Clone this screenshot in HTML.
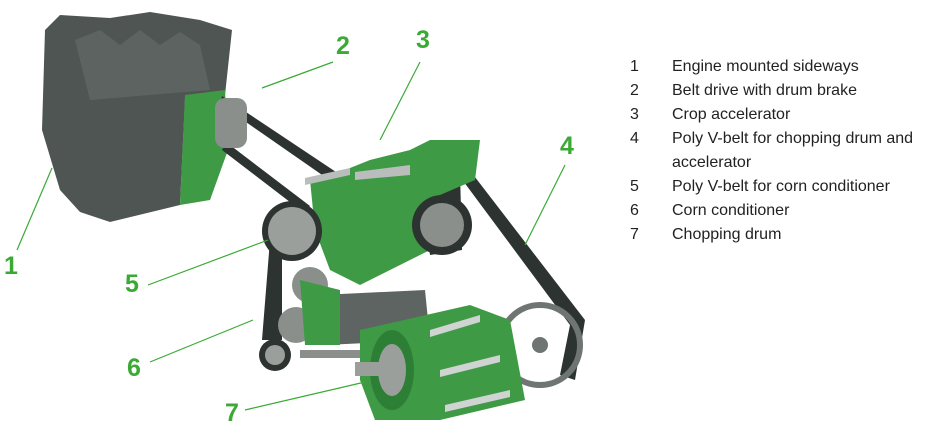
<!DOCTYPE html>
<html><head><style>
body{margin:0;background:#fff;width:941px;height:426px;overflow:hidden;font-family:"Liberation Sans",sans-serif}
.lg{position:absolute;left:630px;top:55px;font-size:16px;color:#222;line-height:24px}
.lg div{position:relative;padding-left:42px}
.lg span{position:absolute;left:0}
</style></head><body>
<svg width="941" height="426" style="position:absolute;left:0;top:0">
<!-- engine -->
<path d="M45,30 L60,15 L110,18 L150,12 L200,20 L232,30 L225,95 L185,100 L180,205 L110,222 L80,212 L60,190 L42,130 Z" fill="#4f5552"/>
<path d="M75,40 L100,30 L120,45 L140,30 L160,45 L180,32 L200,45 L210,90 L90,100 Z" fill="#5d6360"/>
<path d="M185,95 L225,90 L228,150 L210,200 L180,205 Z" fill="#3f9a45"/>
<!-- belt 2 -->
<path d="M222,96 L345,178 L338,186 L220,104 Z" fill="#2c3331"/>
<path d="M226,142 L310,206 L303,212 L222,150 Z" fill="#2c3331"/>
<rect x="215" y="98" width="32" height="50" rx="10" fill="#8a8f8c"/>
<!-- belt 4 -->
<path d="M455,170 L468,168 L585,320 L575,380 L560,375 L570,325 Z" fill="#2c3331"/>
<path d="M420,190 L460,172 L462,250 L430,255 Z" fill="#2c3331"/>
<!-- green frame -->
<path d="M310,180 L345,170 L370,160 L410,150 L430,140 L480,140 L475,180 L440,195 L430,250 L400,265 L360,285 L330,270 L315,230 Z" fill="#3f9a45"/>
<path d="M305,178 L350,168 L350,175 L305,185 Z" fill="#b9bdbb"/>
<path d="M355,172 L410,165 L410,175 L355,180 Z" fill="#b9bdbb"/>
<circle cx="442" cy="225" r="30" fill="#2c3331"/><circle cx="442" cy="225" r="22" fill="#8a8f8c"/>
<!-- left pulleys & belt 5 -->
<path d="M270,240 L282,240 L282,340 L262,340 Z" fill="#2c3331"/>
<circle cx="292" cy="231" r="30" fill="#2c3331"/><circle cx="292" cy="231" r="24" fill="#9a9f9c"/>
<circle cx="310" cy="285" r="18" fill="#8a8f8c"/>
<circle cx="296" cy="325" r="18" fill="#8a8f8c"/>
<circle cx="275" cy="355" r="16" fill="#2c3331"/><circle cx="275" cy="355" r="10" fill="#9a9f9c"/>
<!-- conditioner drum -->
<path d="M320,295 L425,290 L430,340 L325,345 Z" fill="#5e6462"/>
<path d="M300,280 L340,290 L340,345 L305,345 Z" fill="#3f9a45"/>
<rect x="300" y="350" width="70" height="8" fill="#8a8f8c"/>
<!-- wheel -->
<circle cx="540" cy="345" r="40" fill="none" stroke="#6f7572" stroke-width="6"/>
<circle cx="540" cy="345" r="8" fill="#6f7572"/>
<!-- chopping drum -->
<path d="M360,330 L470,305 L510,320 L525,400 L440,420 L375,420 L360,380 Z" fill="#3f9a45"/>
<path d="M430,330 L480,315 L480,322 L430,337 Z M440,370 L500,355 L500,362 L440,377 Z M445,405 L510,390 L510,397 L445,412 Z" fill="#cfd3d1"/>
<ellipse cx="392" cy="370" rx="22" ry="40" fill="#2e7f36"/>
<ellipse cx="392" cy="370" rx="14" ry="26" fill="#9a9f9c"/>
<rect x="355" y="362" width="35" height="14" fill="#9a9f9c"/>
<!-- leader lines -->
<g stroke="#3aaa35" stroke-width="1.2">
<line x1="17" y1="250" x2="52" y2="168"/>
<line x1="262" y1="88" x2="333" y2="62"/>
<line x1="380" y1="140" x2="420" y2="62"/>
<line x1="525" y1="245" x2="565" y2="165"/>
<line x1="148" y1="285" x2="268" y2="240"/>
<line x1="150" y1="362" x2="253" y2="320"/>
<line x1="245" y1="410" x2="365" y2="382"/>
</g>
<g fill="#3aaa35" font-family="Liberation Sans,sans-serif" font-size="25" font-weight="bold">
<text x="4" y="274">1</text><text x="336" y="54">2</text><text x="416" y="48">3</text>
<text x="560" y="154">4</text><text x="125" y="292">5</text><text x="127" y="376">6</text><text x="225" y="421">7</text>
</g>
</svg>
<div class="lg">
<div><span>1</span>Engine mounted sideways</div>
<div><span>2</span>Belt drive with drum brake</div>
<div><span>3</span>Crop accelerator</div>
<div><span>4</span>Poly V-belt for chopping drum and<br>accelerator</div>
<div><span>5</span>Poly V-belt for corn conditioner</div>
<div><span>6</span>Corn conditioner</div>
<div><span>7</span>Chopping drum</div>
</div>
</body></html>
